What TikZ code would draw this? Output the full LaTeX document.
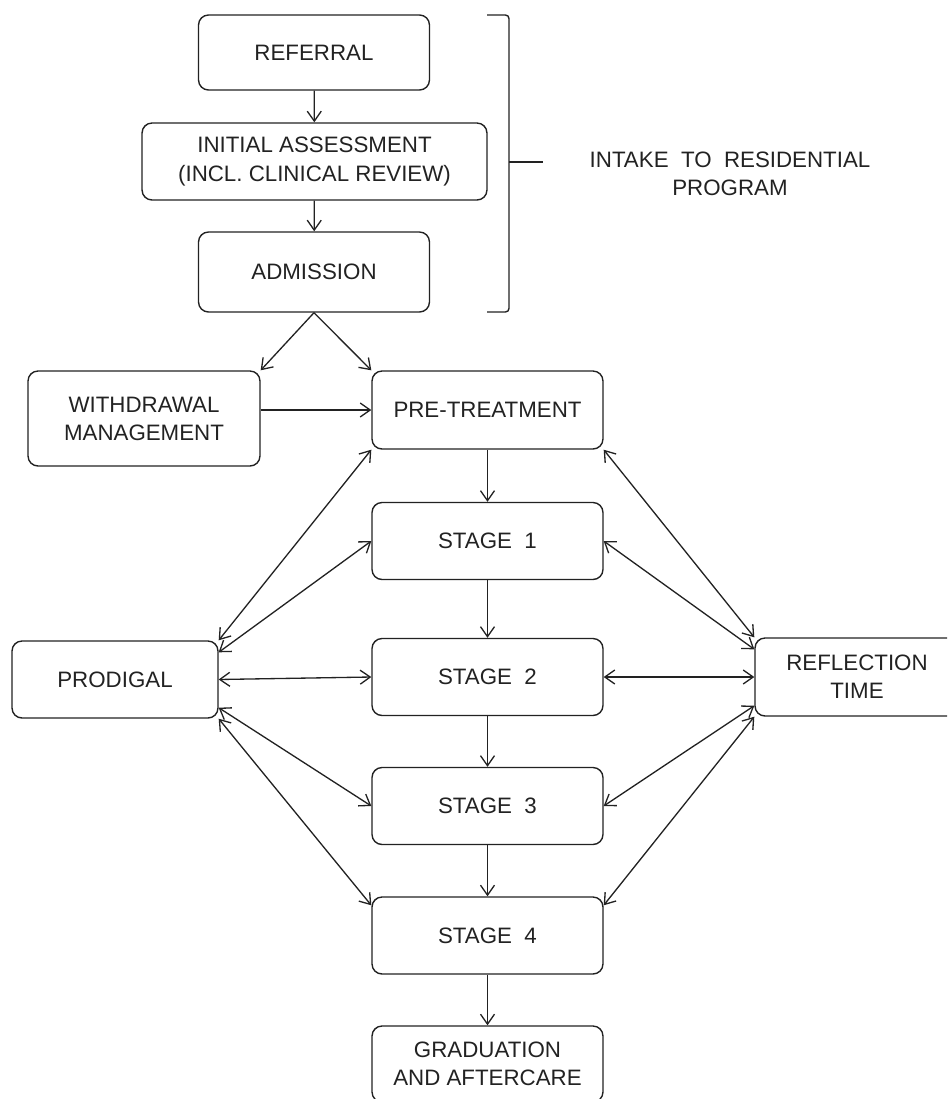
\documentclass[tikz,border=0pt]{standalone}
\usepackage{fontspec}
\setmainfont{Liberation Sans}
\usepackage{tikz}
\usetikzlibrary{arrows.meta,calc}
\definecolor{ink}{HTML}{222222}

\begin{document}
\begin{tikzpicture}[x=0.02cm,y=-0.02cm,>={Straight Barb[length=2mm,width=2.8mm]},
  box/.style={draw=ink,line width=0.8pt,rounded corners=0.2cm,align=center,inner sep=0pt,
    text=ink,font=\fontsize{12.7}{16}\selectfont,minimum width=4.62cm,minimum height=1.54cm},
  link/.style={ink,line width=0.75pt,->},
  both/.style={ink,line width=0.75pt,<->}]
  \useasboundingbox (0,0) rectangle (947,1099);
  \clip (0,0) rectangle (947,1099);
  \node[box,minimum height=1.5cm] (ref) at (314,52.5) {REFERRAL};
  \node[box,minimum width=6.9cm] (ia) at (314.5,161.5) {INITIAL ASSESSMENT\\(INCL. CLINICAL REVIEW)};
  \node[box,minimum height=1.6cm] (adm) at (314,272) {ADMISSION};
  \node[box,minimum width=4.64cm,minimum height=1.9cm] (wd) at (144,418.5) {WITHDRAWAL\\MANAGEMENT};
  \node[box,minimum height=1.56cm] (pt) at (487.5,410) {PRE-TREATMENT};
  \foreach \n/\y in {1/541,2/677,3/806,4/935.5}
    \node[box] (s\n) at (487.5,\y) {STAGE~~\n};
  \node[box,minimum height=1.52cm] (grad) at (487.5,1064) {GRADUATION\\AND AFTERCARE};
  \node[box,minimum width=4.12cm] (prod) at (115,679.5) {PRODIGAL};
  \node[box,minimum width=4.08cm,minimum height=1.56cm] (refl) at (857,677) {REFLECTION\\TIME};
  \node[text=ink,align=center,font=\fontsize{12.7}{16}\selectfont] (intake) at (730,174)
    {INTAKE~~TO~~RESIDENTIAL\\PROGRAM};

  \coordinate (brtop) at (487,15);
  \coordinate (brbot) at (487,312);
  \coordinate (brmid) at (509,162);
  \coordinate (tick) at (543,162);
  \draw[ink,line width=0.8pt,rounded corners=2pt] (brtop) -- (509,15) -- (509,312) -- (brbot);
  \draw[ink,line width=0.8pt] (brmid) -- (tick);

  \draw[link] (ref) -- (ia);
  \draw[link] (ia) -- (adm);
  \draw[link] (adm.south) -- (wd.north east);
  \draw[link] (adm.south) -- (pt.north west);
  \draw[link] (wd.east |- pt.west) -- (pt.west);
  \draw[link] (pt) -- (s1);
  \draw[link] (s1) -- (s2);
  \draw[link] (s2) -- (s3);
  \draw[link] (s3) -- (s4);
  \draw[link] (s4) -- (grad);

  \draw[both] (prod.north east) -- (pt.south west);
  \draw[both] ($(prod.north east)+(0,12)$) -- (s1.west);
  \draw[both] (prod.east) -- (s2.west);
  \draw[both] ($(prod.south east)+(0,-11)$) -- (s3.west);
  \draw[both] (prod.south east) -- ($(s4.north west)+(0,9)$);

  \draw[both] (pt.south east) -- (refl.north west);
  \draw[both] (s1.east) -- ($(refl.north west)+(0,12)$);
  \draw[both] (s2.east) -- (refl.west);
  \draw[both] (s3.east) -- ($(refl.south west)+(0,-11)$);
  \draw[both] ($(s4.north east)+(0,9)$) -- (refl.south west);
\end{tikzpicture}
\end{document}
